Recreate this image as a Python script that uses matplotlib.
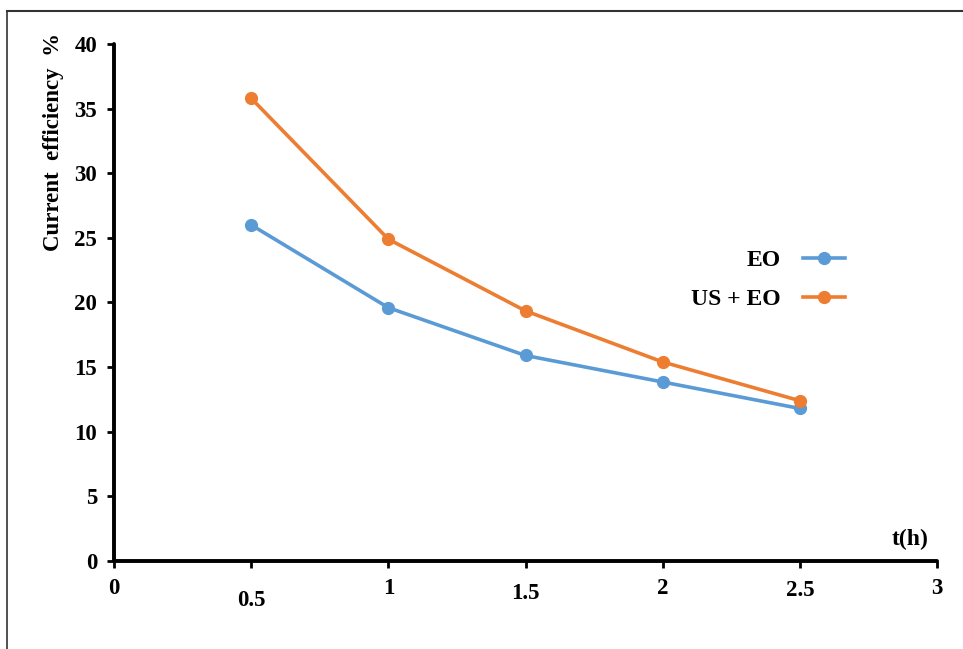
import matplotlib
matplotlib.use("Agg")
import matplotlib.pyplot as plt
from matplotlib.lines import Line2D
import matplotlib.transforms as mtransforms

t_hours = [0.5, 1.0, 1.5, 2.0, 2.5]
eo = [26.0, 19.6, 15.9, 13.85, 11.8]
us_eo = [35.8, 24.9, 19.35, 15.4, 12.4]
x_ticks = [0, 0.5, 1, 1.5, 2, 2.5, 3]
x_tick_labels = ["0", "0.5", "1", "1.5", "2", "2.5", "3"]
y_ticks = [0, 5, 10, 15, 20, 25, 30, 35, 40]

plt.rcParams['font.family'] = ['Liberation Serif', 'DejaVu Serif']
plt.rcParams['font.weight'] = 'bold'

fig = plt.figure(figsize=(9.63, 6.49), dpi=100)
ax = fig.add_axes([0.1184, 0.1356, 0.973 - 0.1184, 0.9322 - 0.1356])

blue = '#5B9BD5'
orange = '#ED7D31'
ax.plot(t_hours, eo, color=blue, lw=2.6, marker='o', ms=8.5, label='EO', clip_on=False)
ax.plot(t_hours, us_eo, color=orange, lw=2.6, marker='o', ms=8.5, label='US + EO', clip_on=False)

ax.set_xlim(0, 3)
ax.set_ylim(0, 40)
ax.set_xticks(x_ticks)
ax.set_xticklabels(x_tick_labels)
ax.set_yticks(y_ticks)

for s in ['top', 'right']:
    ax.spines[s].set_visible(False)
for s in ['left', 'bottom']:
    ax.spines[s].set_linewidth(2.8)
    ax.spines[s].set_color('black')
    ax.spines[s].set_capstyle('round')

ax.tick_params(axis='both', direction='out', length=5, width=2, labelsize=16.5, colors='black')
ax.tick_params(axis='x', pad=7)
ax.tick_params(axis='y', pad=7)
for lab in ax.get_xticklabels() + ax.get_yticklabels():
    lab.set_fontweight('bold')

# small vertical offsets of x tick labels as in the reference
offsets_px = {"0.5": -12, "1.5": -5, "2.5": -2}
for lab in ax.get_xticklabels():
    dy = offsets_px.get(lab.get_text(), 0)
    if dy:
        lab.set_transform(lab.get_transform() + mtransforms.ScaledTranslation(0, dy / 100, fig.dpi_scale_trans))

ax.set_ylabel('Current  efficiency  %', fontsize=16.5, fontweight='bold')
ax.yaxis.set_label_coords(-0.061, 0.81)

ax.text(0.99, 0.0215, 't(h)', transform=ax.transAxes, fontsize=17, fontweight='bold',
        ha='right', va='bottom')

leg = ax.legend(loc='upper left', bbox_to_anchor=(0.675, 0.644), frameon=False,
                markerfirst=False, handlelength=1.8, labelspacing=0.75,
                handletextpad=0.95, prop={'weight': 'bold', 'size': 17})
for txt in leg.get_texts():
    txt.set_ha('right')
leg._legend_box.align = 'right'

# figure border lines (left and top)
fig.add_artist(Line2D([7 / 963, 7 / 963], [0, 1 - 11 / 649], transform=fig.transFigure, color='#333333', lw=1.2))
fig.add_artist(Line2D([7 / 963, 1], [1 - 11 / 649, 1 - 11 / 649], transform=fig.transFigure, color='#333333', lw=1.5))

fig.savefig('out.png', dpi=100)
